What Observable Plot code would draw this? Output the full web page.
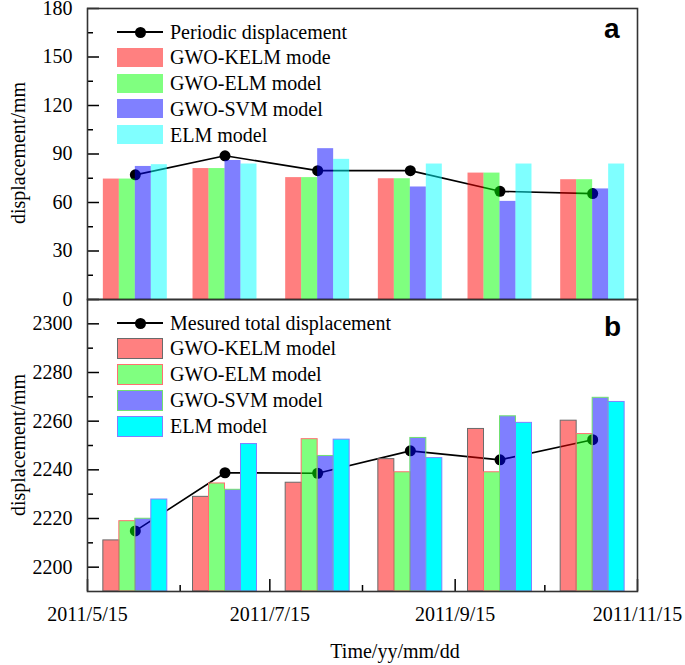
<!DOCTYPE html>
<html><head><meta charset="utf-8">
<script src="https://cdn.jsdelivr.net/npm/d3@7"></script>
<script src="https://cdn.jsdelivr.net/npm/@observablehq/plot@0.6"></script>
<style>
body{margin:0;background:#fff;}
#chart{position:relative;width:685px;height:665px;font-family:"Liberation Serif","Times New Roman",serif;color:#000;}
#chart svg{position:absolute;left:0;top:0;}
.lbl{position:absolute;font-size:20px;white-space:nowrap;line-height:24px;height:24px;}
.sw{position:absolute;box-sizing:border-box;}
.pl{position:absolute;font-family:"Liberation Sans",Arial,sans-serif;font-weight:bold;font-size:28px;}
</style></head><body><div id="chart"></div>
<script>
// ---- data ----
const dates = ["2011-05-31","2011-06-30","2011-07-31","2011-08-31","2011-09-30","2011-10-31"];
const xTickLabels = ["2011/5/15","2011/7/15","2011/9/15","2011/11/15"];
const xMinorLabels = ["2011/6/15","2011/8/15","2011/10/15"];

const topLineName = "Periodic displacement";
const topSeriesNames = ["GWO-KELM mode","GWO-ELM model","GWO-SVM model","ELM model"];
const periodic = [77.1, 88.9, 79.7, 79.7, 66.9, 65.5];
const kelmTop  = [74.5, 81.0, 75.4, 74.7, 78.2, 74.1];
const gelmTop  = [74.5, 81.0, 75.4, 74.7, 78.2, 74.1];
const svmTop   = [82.3, 86.0, 93.3, 69.6, 60.7, 68.4];
const elmTop   = [83.4, 83.8, 86.7, 83.8, 83.8, 83.8];
const topYTicks = [0, 30, 60, 90, 120, 150, 180];
const topYMinor = [15, 45, 75, 105, 135, 165];

const botLineName = "Mesured total displacement";
const botSeriesNames = ["GWO-KELM model","GWO-ELM model","GWO-SVM model","ELM model"];
const measured = [2214.9, 2238.8, 2238.6, 2247.8, 2244.1, 2252.4];
const kelmBot  = [2211.0, 2228.9, 2234.7, 2244.4, 2256.8, 2260.2];
const gelmBot  = [2218.9, 2234.4, 2252.6, 2239.0, 2239.0, 2254.7];
const svmBot   = [2219.9, 2231.8, 2245.7, 2253.1, 2262.0, 2269.6];
const elmBot   = [2227.8, 2250.6, 2252.4, 2244.8, 2259.3, 2267.9];
const botYTicks = [2200, 2220, 2240, 2260, 2280, 2300];
const botYMinor = [2210, 2230, 2250, 2270, 2290];

// ---- helpers ----
const parseLbl = s => { const [y,m,d] = s.split("/").map(Number); return new Date(Date.UTC(y, m-1, d)); };
const fmt = d => `${d.getUTCFullYear()}/${d.getUTCMonth()+1}/${d.getUTCDate()}`;
const xDates = dates.map(s => new Date(s + "T00:00:00Z"));
const xMajor = xTickLabels.map(parseLbl);
const xMinor = xMinorLabels.map(parseLbl);
const xDomain = [xMajor[0], xMajor[xMajor.length-1]];
const DAY = 864e5, BW = 5.35 * DAY;

function barsOf(vals, s) {
  return vals.map((v, i) => ({x1: new Date(xDates[i].getTime() + (s - 2) * BW), x2: new Date(xDates[i].getTime() + (s - 1) * BW), v}));
}
function lineOf(vals) { return vals.map((v, i) => ({x: xDates[i], v})); }

const baseFills = ["#ff0000", "#00ff00", "#0000ff", "#00ffff"];
const W = 685, ML = 87, MR = 48;
const style = {fontFamily: '"Liberation Serif","Times New Roman",serif', fontSize: "20px", background: "transparent", overflow: "visible", color: "#000"};

function panel({height, marginTop, marginBottom, yDomain, yTicks, yMinor, lineVals, series, fillOpacity, strokes, xAxis}) {
  const marks = [
    Plot.line(lineOf(lineVals), {x: "x", y: "v", stroke: "#000", strokeWidth: 1.6}),
    Plot.dot(lineOf(lineVals), {x: "x", y: "v", r: 5.5, fill: "#000", stroke: "none"})
  ];
  series.forEach((vals, s) => {
    marks.push(Plot.rect(barsOf(vals, s), {x1: "x1", x2: "x2", y1: yDomain[0], y2: "v",
      fill: baseFills[s], fillOpacity: fillOpacity[s],
      stroke: strokes ? strokes[s] : "none", strokeWidth: 1}));
  });
  marks.push(
    Plot.axisY({ticks: yTicks, tickSize: 0, tickPadding: 15, tickFormat: d => String(d), fontSize: 20, label: null}),
    Plot.axisY({ticks: yTicks, tickSize: -12, text: null, label: null, strokeWidth: 1.5}),
    Plot.axisY({ticks: yMinor, tickSize: -6, text: null, label: null, strokeWidth: 1.5})
  );
  if (xAxis) {
    marks.push(
      Plot.axisX({ticks: xMajor, tickSize: 0, tickPadding: 15, tickFormat: fmt, fontSize: 20, label: null}),
      Plot.axisX({ticks: xMajor, tickSize: -12, text: null, label: null, strokeWidth: 1.5}),
      Plot.axisX({ticks: xMinor, tickSize: -6, text: null, label: null, strokeWidth: 1.5})
    );
  }
  marks.push(Plot.frame({stroke: "#333", strokeWidth: 1.6}));
  return Plot.plot({
    width: W, height, marginLeft: ML, marginRight: MR, marginTop, marginBottom,
    style,
    x: {type: "utc", domain: xDomain, axis: xAxis ? undefined : null},
    y: {domain: yDomain, axis: null},
    marks
  });
}

const chart = document.getElementById("chart");
chart.appendChild(panel({
  height: 665, marginTop: 299, marginBottom: 74, yDomain: [2190, 2310],
  yTicks: botYTicks, yMinor: botYMinor, lineVals: measured,
  series: [kelmBot, gelmBot, svmBot, elmBot], fillOpacity: [0.5, 0.5, 0.5, 1],
  strokes: ["#6a6a6a", "#ff7070", "#70e070", "#8080ff"], xAxis: true
}));
chart.appendChild(panel({
  height: 300, marginTop: 8, marginBottom: 1, yDomain: [0, 180],
  yTicks: topYTicks, yMinor: topYMinor, lineVals: periodic,
  series: [kelmTop, gelmTop, svmTop, elmTop], fillOpacity: [0.5, 0.5, 0.5, 0.5],
  strokes: null, xAxis: false
}));

// ---- legends & titles ----
function add(cls, css, text) {
  const d = document.createElement("div"); d.className = cls;
  Object.assign(d.style, css); if (text != null) d.textContent = text; chart.appendChild(d); return d;
}
function legend(rows, lineName, names, fills, strokes, swH) {
  add("sw", {left: "117px", top: (rows[0] - 0.8) + "px", width: "46px", height: "1.6px", background: "#000"});
  add("sw", {left: "134.5px", top: (rows[0] - 5.5) + "px", width: "11px", height: "11px", borderRadius: "50%", background: "#000"});
  add("lbl", {left: "170px", top: (rows[0] - 12) + "px"}, lineName);
  names.forEach((n, i) => {
    const css = {left: "117px", top: (rows[i+1] - swH/2) + "px", width: "46px", height: swH + "px", background: fills[i]};
    if (strokes) css.border = "1.5px solid " + strokes[i];
    add("sw", css);
    add("lbl", {left: "170px", top: (rows[i+1] - 12) + "px"}, n);
  });
}
legend([32, 57, 83, 108.5, 134.5], topLineName, topSeriesNames,
  ["#ff8080", "#80ff80", "#8080ff", "#80ffff"], null, 19);
legend([323, 348, 374, 400, 426], botLineName, botSeriesNames,
  ["#ff8080", "#80ff80", "#8080ff", "#00ffff"], ["#6a6a6a", "#ff7070", "#70e070", "#8080ff"], 21);

add("pl", {left: "604px", top: "12px", lineHeight: "34px"}, "a");
add("pl", {left: "604px", top: "310px", lineHeight: "34px"}, "b");

const yt = (cy) => add("lbl", {left: "18px", top: cy + "px", transform: "translate(-50%,-50%) rotate(-90deg)"}, "displacement/mm");
yt(153); yt(445);
add("lbl", {left: "395px", top: "651px", transform: "translate(-50%,-50%)"}, "Time/yy/mm/dd");
</script></body></html>
